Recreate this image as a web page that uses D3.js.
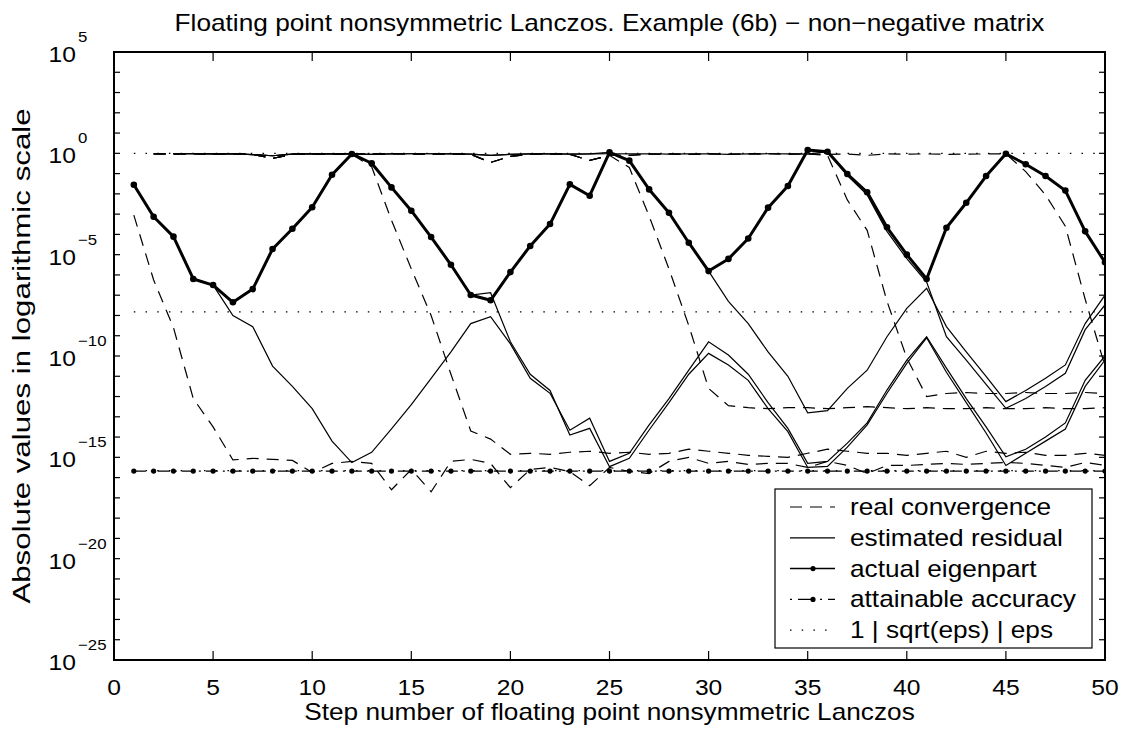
<!DOCTYPE html>
<html>
<head>
<meta charset="utf-8">
<script src="https://cdn.jsdelivr.net/npm/d3@7/dist/d3.min.js"></script>
<style>
body { margin: 0; background: #fff; }
text { font-family: "Liberation Sans", Arial, Helvetica, sans-serif; fill: #000; }
</style>
</head>
<body>
<div id="chart"></div>
<script>
// values are log10 of the plotted quantity, one entry per Lanczos step 1..50
var steps = d3.range(1, 51);

var eigenpart = [-1.55, -3.13, -4.11, -6.2, -6.5, -7.35, -6.7, -4.72, -3.72, -2.66,
    -1.06, -0.03, -0.49, -1.68, -2.83, -4.13, -5.5, -6.99, -7.25, -5.86,
    -4.57, -3.49, -1.53, -2.09, 0.05, -0.36, -1.78, -2.93, -4.41, -5.81,
    -5.21, -4.2, -2.68, -1.61, 0.16, 0.08, -1.02, -1.92, -3.65, -5.0,
    -6.2, -3.67, -2.44, -1.12, -0.02, -0.54, -1.12, -1.84, -3.85, -5.38];

// estimated residuals (solid)
var resid1 = [-1.55, -3.13, -4.11, -6.2, -6.5, -8.0, -8.55, -10.5, -11.5, -12.6,
    -14.2, -15.26, -14.75, -13.6, -12.4, -11.1, -9.8, -8.4, -8.06, -9.4,
    -11.1, -11.84, -13.66, -13.07, -15.2, -14.8, -13.4, -12.1, -10.7, -9.3,
    -9.95, -10.9, -12.3, -13.57, -15.3, -15.2, -14.3, -13.3, -11.68, -10.2,
    -9.05, -10.6, -12.1, -13.5, -14.97, -14.6, -14.0, -13.3, -11.2, -10.0];
var resid2 = [null, null, -0.02, -0.01, -0.03, -0.02, -0.06, -0.12, -0.04, -0.02,
    -0.03, -0.03, -0.49, -1.68, -2.83, -4.13, -5.5, -6.99, -6.88, -9.3,
    -10.9, -11.7, -13.9, -13.57, -15.46, -15.05, -13.65, -12.3, -10.9, -9.87,
    -10.44, -11.2, -12.6, -13.73, -15.5, -15.45, -14.5, -13.4, -11.84, -10.36,
    -9.1, -10.8, -12.3, -13.8, -15.4, -14.8, -14.2, -13.6, -11.5, -10.2];
var resid3 = [null, null, -0.02, -0.01, -0.03, -0.02, -0.06, -0.12, -0.04, -0.02,
    -0.03, -0.02, -0.05, -0.03, -0.02, -0.02, -0.03, -0.04, -0.1, -0.05,
    -0.03, -0.02, -0.04, -0.03, 0.05, -0.36, -1.78, -2.93, -4.41, -5.81,
    -7.3, -8.4, -9.8, -11.0, -12.8, -12.7, -11.6, -10.7, -9.05, -7.65,
    -6.66, -8.55, -9.8, -11.0, -12.25, -11.7, -11.1, -10.44, -8.4, -7.0];
var resid4 = [null, null, -0.02, -0.01, -0.03, -0.02, -0.06, -0.12, -0.04, -0.02,
    -0.03, -0.02, -0.05, -0.03, -0.02, -0.02, -0.03, -0.04, -0.1, -0.05,
    -0.03, -0.02, -0.04, -0.03, -0.02, -0.03, -0.02, -0.04, -0.03, -0.02,
    -0.05, -0.03, -0.02, -0.03, -0.04, 0.08, -1.1, -2.05, -3.85, -5.2,
    -6.35, -9.05, -10.2, -11.4, -12.58, -12.1, -11.5, -10.85, -8.7, -7.48];

// real convergence (dashed)
var conv1 = [-3.05, -6.25, -8.6, -12.1, -13.5, -15.13, -15.05, -15.1, -15.15, -15.75,
    -15.3, -15.2, -15.3, -16.6, -15.6, -16.7, -15.2, -15.1, -15.3, -16.5,
    -15.6, -15.5, -15.7, -16.4, -15.5, -15.7, -15.8, -15.2, -15.0, -15.3,
    -15.2, -15.35, -15.3, -15.3, -15.5, -15.2, -15.4, -15.8, -15.4, -15.4,
    -15.35, -15.3, -15.35, -15.3, -15.25, -15.3, -15.4, -15.5, -15.25, -15.4];
var conv2 = [null, -0.03, -0.03, -0.02, -0.04, -0.03, -0.05, -0.25, -0.05, -0.03,
    -0.04, -0.05, -0.66, -3.3, -5.7, -8.0, -10.9, -13.7, -14.1, -14.85,
    -14.8, -14.85, -14.75, -14.7, -14.8, -14.75, -14.85, -14.8, -14.6, -14.7,
    -14.8, -14.9, -14.95, -15.0, -14.8, -14.6, -14.7, -14.8, -14.8, -14.9,
    -14.8, -14.7, -15.0, -14.7, -14.8, -14.75, -14.9, -14.9, -14.8, -14.9];
var conv3 = [null, -0.03, -0.03, -0.02, -0.04, -0.03, -0.05, -0.25, -0.05, -0.03,
    -0.04, -0.05, -0.03, -0.02, -0.03, -0.04, -0.03, -0.05, -0.45, -0.15,
    -0.04, -0.03, -0.05, -0.35, -0.1, -0.7, -3.1, -5.7, -8.5, -11.6,
    -12.45, -12.55, -12.6, -12.55, -12.55, -12.6, -12.55, -12.5, -12.55, -12.6,
    -12.55, -12.6, -12.6, -12.55, -12.6, -12.6, -12.55, -12.6, -12.6, -12.55];
var conv4 = [null, -0.03, -0.03, -0.02, -0.04, -0.03, -0.05, -0.25, -0.05, -0.03,
    -0.04, -0.05, -0.03, -0.02, -0.03, -0.04, -0.03, -0.05, -0.45, -0.15,
    -0.04, -0.03, -0.05, -0.35, -0.1, -0.1, -0.04, -0.03, -0.05, -0.03,
    -0.04, -0.03, -0.02, -0.04, -0.03, -0.1, -2.3, -3.8, -7.3, -10.1,
    -12.0, -11.85, -11.8, -11.85, -11.85, -11.8, -11.85, -11.85, -11.8, -11.85];
var conv5 = [null, -0.03, -0.03, -0.02, -0.04, -0.03, -0.05, -0.25, -0.05, -0.03,
    -0.04, -0.05, -0.03, -0.02, -0.03, -0.04, -0.03, -0.05, -0.45, -0.15,
    -0.04, -0.03, -0.05, -0.35, -0.1, -0.1, -0.04, -0.03, -0.05, -0.03,
    -0.04, -0.03, -0.02, -0.04, -0.03, -0.05, -0.04, -0.1, -0.03, -0.04,
    -0.03, -0.05, -0.04, -0.03, -0.02, -0.9, -2.05, -3.6, -7.2, -10.5];

var attainable = 2.1e-16;
var refLevels = [1, 1.49e-8, 2.22e-16];   // 1 | sqrt(eps) | eps

var xTicks = [0, 5, 10, 15, 20, 25, 30, 35, 40, 45, 50];
var yLabelExps = [5, 0, -5, -10, -15, -20, -25];
var yTickExps = d3.range(-25, 6);

var legendItems = ["real convergence", "estimated residual", "actual eigenpart",
    "attainable accuracy", "1 | sqrt(eps) | eps"];

var titleText = "Floating point nonsymmetric Lanczos. Example (6b) \u2212 non\u2212negative matrix";
var xLabel = "Step number of floating point nonsymmetric Lanczos";
var yLabel = "Absolute values in logarithmic scale";

// ---- layout
var width = 1125, height = 730;
var pLeft = 114, pRight = 1105, pTop = 52, pBottom = 660;

var svg = d3.select("#chart").append("svg")
    .attr("width", width).attr("height", height);
svg.append("rect").attr("width", width).attr("height", height).attr("fill", "white");

var x = d3.scaleLinear().domain([0, 50]).range([pLeft, pRight]);
var y = d3.scaleLog().domain([1e-25, 1e5]).range([pBottom, pTop]);

// text in the picture is a bit wider than Arial, so stretch it along its direction
function addText(parent, px, py, str, size, anchor, kx, rot) {
    var g = parent.append("g")
        .attr("transform", "translate(" + px + "," + py + ")" + (rot ? " rotate(" + rot + ")" : "") + " scale(" + kx + ",1)");
    g.append("text")
        .attr("text-anchor", anchor || "start")
        .style("font-size", size + "px")
        .text(str);
    return g;
}

svg.append("clipPath").attr("id", "plotclip")
    .append("rect").attr("x", pLeft).attr("y", pTop)
    .attr("width", pRight - pLeft).attr("height", pBottom - pTop);

var plot = svg.append("g").attr("clip-path", "url(#plotclip)");

var line = d3.line()
    .defined(function(d) { return d[1] != null; })
    .x(function(d) { return x(d[0]); })
    .y(function(d) { return y(Math.pow(10, d[1])); });

function pairs(arr) {
    return steps.map(function(s, i) { return [s, arr[i]]; });
}

var dashed = "12,8", dashdot = "12,5,2,5", dotted = "1.5,10.2";

// dotted reference lines
refLevels.forEach(function(v) {
    plot.append("line")
        .attr("x1", x(1)).attr("x2", x(50))
        .attr("y1", y(v)).attr("y2", y(v))
        .attr("stroke", "#000").attr("stroke-width", 1.3)
        .attr("stroke-dasharray", dotted);
});

// attainable accuracy
plot.append("line")
    .attr("x1", x(1)).attr("x2", x(50))
    .attr("y1", y(attainable)).attr("y2", y(attainable))
    .attr("stroke", "#000").attr("stroke-width", 1.2)
    .attr("stroke-dasharray", dashdot);
plot.selectAll(".attdot")
    .data(steps)
    .enter()
    .append("circle")
    .attr("cx", function(d) { return x(d); })
    .attr("cy", y(attainable))
    .attr("r", 2.6)
    .attr("fill", "#000");

// real convergence
[conv1, conv2, conv3, conv4, conv5].forEach(function(arr) {
    plot.append("path")
        .datum(pairs(arr))
        .attr("d", line)
        .attr("fill", "none")
        .attr("stroke", "#000").attr("stroke-width", 1.2)
        .attr("stroke-dasharray", dashed);
});

// estimated residual
[resid1, resid2, resid3, resid4].forEach(function(arr) {
    plot.append("path")
        .datum(pairs(arr))
        .attr("d", line)
        .attr("fill", "none")
        .attr("stroke", "#000").attr("stroke-width", 1.2);
});

// actual eigenpart
plot.append("path")
    .datum(pairs(eigenpart))
    .attr("d", line)
    .attr("fill", "none")
    .attr("stroke", "#000").attr("stroke-width", 3)
    .attr("stroke-linejoin", "round");
plot.selectAll(".eigdot")
    .data(pairs(eigenpart))
    .enter()
    .append("circle")
    .attr("cx", function(d) { return x(d[0]); })
    .attr("cy", function(d) { return y(Math.pow(10, d[1])); })
    .attr("r", 3.3)
    .attr("fill", "#000");

// ---- axes box and ticks
var axes = svg.append("g");
axes.append("rect")
    .attr("x", pLeft).attr("y", pTop)
    .attr("width", pRight - pLeft).attr("height", pBottom - pTop)
    .attr("fill", "none").attr("stroke", "#000").attr("stroke-width", 2);

xTicks.forEach(function(t) {
    axes.append("line").attr("x1", x(t)).attr("x2", x(t))
        .attr("y1", pBottom).attr("y2", pBottom - 9).attr("stroke", "#000").attr("stroke-width", 1.2);
    axes.append("line").attr("x1", x(t)).attr("x2", x(t))
        .attr("y1", pTop).attr("y2", pTop + 9).attr("stroke", "#000").attr("stroke-width", 1.2);
    addText(axes, x(t), 695, String(t), 22, "middle", 1.12);
});

yTickExps.forEach(function(e) {
    var py = y(Math.pow(10, e));
    axes.append("line").attr("x1", pLeft).attr("x2", pLeft + 6)
        .attr("y1", py).attr("y2", py).attr("stroke", "#000").attr("stroke-width", 1.2);
    axes.append("line").attr("x1", pRight).attr("x2", pRight - 6)
        .attr("y1", py).attr("y2", py).attr("stroke", "#000").attr("stroke-width", 1.2);
});

yLabelExps.forEach(function(e) {
    var py = y(Math.pow(10, e));
    addText(axes, 76, py + 10, "10", 22, "end", 1.12);
    addText(axes, 78, py - 10, e < 0 ? "\u2212" + (-e) : String(e), 15, "start", 1.12);
});

// titles
addText(svg, (pLeft + pRight) / 2, 31, titleText, 23, "middle", 1.14);
addText(svg, (pLeft + pRight) / 2, 720, xLabel, 23, "middle", 1.14);
addText(svg, 30, (pTop + pBottom) / 2, yLabel, 23, "middle", 1.36, -90);

// ---- legend
var lg = svg.append("g");
lg.append("rect")
    .attr("x", 775).attr("y", 489).attr("width", 317).attr("height", 159)
    .attr("fill", "white").attr("stroke", "#000").attr("stroke-width", 1.2);

var legendStyles = [
    { dash: dashed, w: 1.2, dot: 0 },
    { dash: null, w: 1.2, dot: 0 },
    { dash: null, w: 1.5, dot: 2.6 },
    { dash: "2,6,16,6", w: 1.2, dot: 2.6 },
    { dash: dotted, w: 1.3, dot: 0 }
];

legendItems.forEach(function(name, i) {
    var cy = 507 + i * 30.8;
    var st = legendStyles[i];
    lg.append("line")
        .attr("x1", 790).attr("x2", 835).attr("y1", cy).attr("y2", cy)
        .attr("stroke", "#000").attr("stroke-width", st.w)
        .attr("stroke-dasharray", st.dash);
    if (st.dot) {
        lg.append("circle").attr("cx", 813).attr("cy", cy).attr("r", st.dot).attr("fill", "#000");
    }
    addText(lg, 850, cy + 8, name, 23, "start", 1.14);
});
</script>
</body>
</html>
